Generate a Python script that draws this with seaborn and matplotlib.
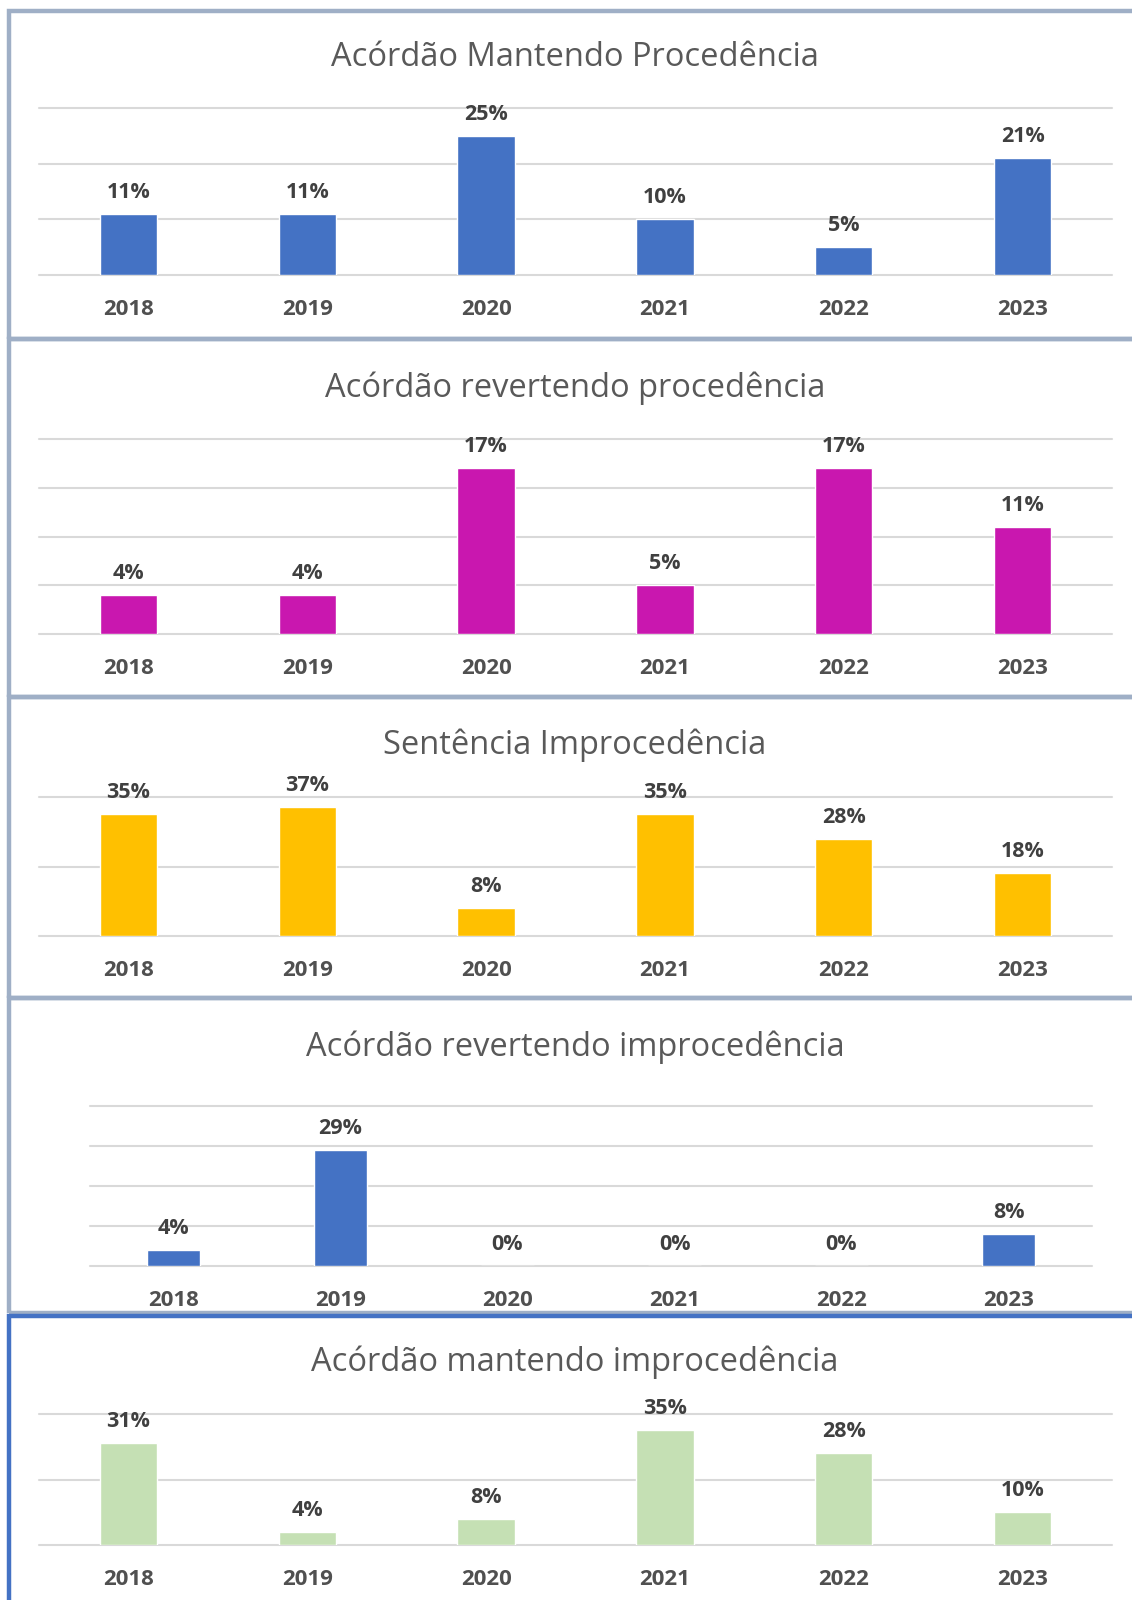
import seaborn as sns
import matplotlib.pyplot as plt
from matplotlib.patches import Rectangle

years = ["2018", "2019", "2020", "2021", "2022", "2023"]

titles = ["Acórdão Mantendo Procedência",
          "Acórdão revertendo procedência",
          "Sentência Improcedência",
          "Acórdão revertendo improcedência",
          "Acórdão mantendo improcedência"]

mantendo_proc = [11, 11, 25, 10, 5, 21]
revertendo_proc = [4, 4, 17, 5, 17, 11]
sentenca_improc = [35, 37, 8, 35, 28, 18]
revertendo_improc = [4, 29, 0, 0, 0, 8]
mantendo_improc = [31, 4, 8, 35, 28, 10]

series = [mantendo_proc, revertendo_proc, sentenca_improc, revertendo_improc, mantendo_improc]
colors = ["#4472C4", "#C917AF", "#FFC000", "#4472C4", "#C5E0B4"]
yticks = [[0, 10, 20, 30], [0, 5, 10, 15, 20], [0, 20, 40], [0, 10, 20, 30, 40], [0, 20, 40]]

W, H = 1132, 1600
# layout in pixels: (x0, x1, grid top, baseline, title y, frame top, frame bottom, frame colour)
layout = [
    (39, 1112, 108, 275, 57, 11, 339, "#9FAFC6"),
    (39, 1112, 439, 634, 388, 339, 697, "#9FAFC6"),
    (39, 1112, 797, 936, 745, 697, 998, "#9FAFC6"),
    (90, 1092, 1106, 1266, 1047, 998, 1313, "#9FAFC6"),
    (39, 1112, 1414, 1545, 1362, 1316, 1640, "#4472C4"),
]

sns.set_style("white")
plt.rcParams["font.family"] = ["Open Sans", "DejaVu Sans"]

fig = plt.figure(figsize=(W / 100, H / 100), dpi=100)

for i in range(5):
    x0, x1, gtop, base, ty, ftop, fbot, fcol = layout[i]
    fig.patches.append(Rectangle((9 / W, 1 - fbot / H), 1.2, (fbot - ftop) / H,
                                 transform=fig.transFigure, fill=False,
                                 edgecolor=fcol, lw=3.2, zorder=0))
    ax = fig.add_axes([x0 / W, 1 - base / H, (x1 - x0) / W, (base - gtop) / H])
    ax.set_facecolor("none")
    sns.barplot(x=years, y=series[i], color=colors[i], saturation=1, width=0.32, ax=ax)
    ax.set_ylim(0, yticks[i][-1])
    ax.set_yticks(yticks[i])
    ax.set_yticklabels([])
    ax.grid(axis="y", color="#D9D9D9", lw=1.5)
    ax.set_axisbelow(True)
    for gl in ax.get_ygridlines():
        gl.set_clip_on(False)
    sns.despine(ax=ax, left=True, bottom=True)
    ax.tick_params(axis="both", length=0)
    ax.tick_params(axis="x", pad=17, labelsize=16, labelcolor="#505050")
    for lab in ax.get_xticklabels():
        lab.set_fontweight("bold")
    ax.set_xlabel("")
    ax.set_ylabel("")
    ax.bar_label(ax.containers[0], labels=[f"{v}%" for v in series[i]],
                 padding=8, fontsize=15.5, fontweight="bold", color="#404040")
    fig.text(575 / W, 1 - ty / H, titles[i], ha="center", va="center",
             fontsize=23.5, color="#595959")

plt.savefig("out.png", dpi=100)
